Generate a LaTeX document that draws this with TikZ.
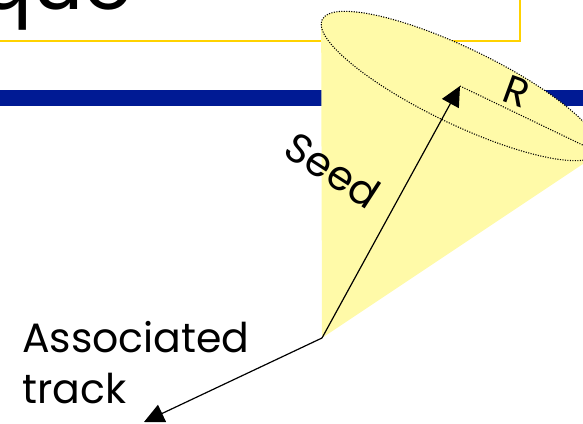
\documentclass[tikz,border=0pt]{standalone}
\usepackage{fontspec}
\setmainfont{Poppins}
\usepackage{xcolor}
\usepackage{tikz}
\usetikzlibrary{arrows.meta}
\definecolor{conefill}{RGB}{255,250,168}
\definecolor{boxline}{RGB}{255,210,0}
\definecolor{barblue}{RGB}{0,26,148}

\begin{document}
\begin{tikzpicture}[x=1pt,y=1pt,
    bigtext/.style={inner sep=0pt, font=\fontsize{41}{50}\selectfont},
    rim/.style={line width=1.1pt, dash pattern=on 1.1pt off 1.4pt},
    vec/.style={line width=1.2pt, -{Triangle[length=20pt,width=19pt]}}]
    \useasboundingbox (0,0) rectangle (583,423);
    \clip (0,0) rectangle (583,423);

    \draw[boxline, line width=1.3pt, fill=white] (-10,382) rectangle (520,440);
    \node[anchor=base west, inner sep=0pt, font=\fontsize{80}{90}\selectfont] (title) at (-22,413) {que};
    \fill[barblue] (0,317) rectangle (583,333);

    \coordinate (apex) at (322,85);
    \coordinate (trackend) at (144,1);
    \begin{scope}[shift={(460,337)}, rotate=-25.7]
      \fill[conefill] (apex) -- (186.7:153 and 38) -- (-8.12:153 and 38) -- cycle;
      \draw[rim, fill=conefill] (0,0) coordinate (centre) ellipse [x radius=153, y radius=38];
      \coordinate (edge) at (0:153 and 38);
    \end{scope}

    \draw[rim] (centre) -- (edge);
    \draw[vec] (apex) -- (centre);
    \draw[vec] (apex) -- (trackend);

    \node[bigtext, rotate=-33] (seedlabel) at (333,253) {Seed};
    \node[bigtext, font=\fontsize{40}{44}\selectfont, rotate=-20] (rlabel) at (517,331) {R};
    \node[bigtext, align=left, anchor=base west] (tracklabel) at (22,20) {Associated\\track};
\end{tikzpicture}
\end{document}
